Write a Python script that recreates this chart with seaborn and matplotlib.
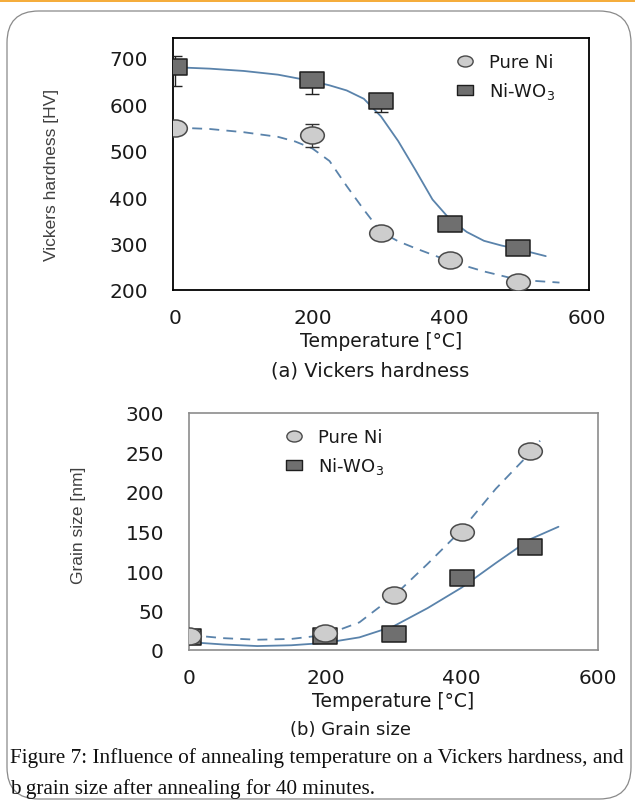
import numpy as np
import pandas as pd
import matplotlib
matplotlib.use("Agg")
import matplotlib.pyplot as plt
import seaborn as sns
from matplotlib.path import Path
from matplotlib.markers import MarkerStyle
from matplotlib.lines import Line2D
from matplotlib.patches import FancyBboxPatch, Rectangle

# ---------------- data ----------------
temps = [0, 200, 300, 400, 500]
series = ["Pure Ni", "Ni-WO$_3$"]

hv_pure = [550, 533, 323, 265, 218]
hv_wo3 = [680, 652, 608, 343, 290]
hv_pure_err_lo = [0, 24, 0, 0, 0]
hv_pure_err_hi = [0, 25, 0, 0, 0]
hv_wo3_err_lo = [40, 30, 25, 0, 0]
hv_wo3_err_hi = [25, 0, 0, 0, 0]

gs_pure = [18, 21, 70, 150, 252]
gs_wo3 = [16, 18, 20, 91, 130]

# fitted curves
hv_fit_pure_x = [0, 50, 100, 150, 175, 200, 225, 250, 275, 300, 325, 350, 400, 450, 500, 560]
hv_fit_pure_y = [550, 547, 540, 530, 520, 505, 478, 424, 373, 325, 305, 290, 262, 240, 222, 216]
hv_fit_wo3_x = [0, 50, 100, 150, 200, 225, 250, 275, 300, 325, 350, 375, 400, 425, 450, 475, 500, 540]
hv_fit_wo3_y = [680, 677, 672, 664, 650, 641, 630, 612, 574, 521, 459, 395, 353, 325, 306, 296, 288, 273]

gs_fit_pure_x = [0, 50, 100, 150, 200, 250, 300, 350, 400, 450, 500, 515]
gs_fit_pure_y = [19, 15, 13, 14, 19, 35, 68, 109, 152, 204, 249, 265]
gs_fit_wo3_x = [0, 50, 100, 150, 200, 250, 300, 350, 400, 450, 500, 542]
gs_fit_wo3_y = [10, 7, 5, 6, 9, 16, 30, 53, 79, 110, 140, 156]

hv_yticks = [200, 300, 400, 500, 600, 700]
gs_yticks = [0, 50, 100, 150, 200, 250, 300]
xticks = [0, 200, 400, 600]

# ---------------- style ----------------
sns.set_theme(style="white")
plt.rcParams["font.family"] = ["DejaVu Sans"]

line_col = "#5a83ab"
sq_face, sq_edge = "#6f6f6f", "#1e1e1e"
ci_face, ci_edge = "#cdcdcd", "#4a4a4a"
txt_col = "#1a1a1a"

W, H = 635, 803

ell = Path.unit_circle().transformed(matplotlib.transforms.Affine2D().scale(1.0, 0.72))
rect = Path([(-1, -0.7), (1, -0.7), (1, 0.7), (-1, 0.7), (-1, -0.7)],
            [Path.MOVETO, Path.LINETO, Path.LINETO, Path.LINETO, Path.CLOSEPOLY])
m_circle = MarkerStyle(ell)
m_square = MarkerStyle(rect)

fig = plt.figure(figsize=(W / 100, H / 100), dpi=100)

# decorations: orange top bar and rounded frame
fig.patches.append(Rectangle((0, 1 - 3 / H), 1, 3 / H, transform=fig.transFigure,
                             facecolor="#f5ad3c", edgecolor="none", zorder=0))
fig.patches.append(FancyBboxPatch((7 / W, 3 / H), 624 / W, 788 / H,
                                  boxstyle="round,pad=0,rounding_size=0.05",
                                  transform=fig.transFigure, facecolor="none",
                                  edgecolor="#8a8a8a", linewidth=0.9, zorder=0,
                                  mutation_aspect=W / H))

ax1 = fig.add_axes([173 / W, 1 - 291 / H, (589 - 173) / W, (291 - 39) / H])
ax2 = fig.add_axes([189 / W, 1 - 651 / H, (598 - 189) / W, (651 - 414) / H])


def draw_panel(ax, fx_p, fy_p, fx_w, fy_w, y_p, y_w, spine_col):
    dfp = pd.DataFrame({"x": fx_p, "y": fy_p})
    dfw = pd.DataFrame({"x": fx_w, "y": fy_w})
    sns.lineplot(data=dfw, x="x", y="y", ax=ax, color=line_col, lw=1.3, zorder=2)
    sns.lineplot(data=dfp, x="x", y="y", ax=ax, color=line_col, lw=1.3, zorder=2,
                 dashes=False, linestyle=(0, (5.5, 4)))
    dp = pd.DataFrame({"x": temps, "y": y_p})
    dw = pd.DataFrame({"x": temps, "y": y_w})
    sns.scatterplot(data=dw, x="x", y="y", ax=ax, marker=m_square, s=290,
                    color=sq_face, edgecolor=sq_edge, linewidth=1.1, zorder=4)
    sns.scatterplot(data=dp, x="x", y="y", ax=ax, marker=m_circle, s=290,
                    color=ci_face, edgecolor=ci_edge, linewidth=1.1, zorder=4)
    for s in ax.spines.values():
        s.set_color(spine_col)
        s.set_linewidth(1.3 if spine_col == "black" else 1.2)
    ax.tick_params(axis="both", which="major", direction="out", length=7, width=1.0,
                   color=spine_col, labelsize=14.5, labelcolor=txt_col)
    ax.tick_params(axis="y", pad=11)
    ax.tick_params(axis="x", pad=6)
    ax.set_xticks(xticks)
    ax.set_xticklabels([str(t) for t in xticks])
    ax.set_xlabel("Temperature [°C]", fontsize=13.5, color=txt_col, labelpad=3)


# ---- panel (a)
ax1.errorbar(temps, hv_wo3, yerr=[hv_wo3_err_lo, hv_wo3_err_hi], fmt="none",
             ecolor="#222222", elinewidth=1.0, capsize=5, capthick=1.0, zorder=3)
ax1.errorbar(temps, hv_pure, yerr=[hv_pure_err_lo, hv_pure_err_hi], fmt="none",
             ecolor="#333333", elinewidth=1.0, capsize=5, capthick=1.0, zorder=3)
draw_panel(ax1, hv_fit_pure_x, hv_fit_pure_y, hv_fit_wo3_x, hv_fit_wo3_y,
           hv_pure, hv_wo3, "black")
ax1.set_xlim(-3, 603)
ax1.set_ylim(200, 743)
ax1.set_yticks(hv_yticks)
ax1.set_yticklabels([str(t) for t in hv_yticks])
ax1.set_ylabel("Vickers hardness [HV]", fontsize=12.5, color="#404040",
               family="Liberation Sans")
ax1.yaxis.set_label_coords(-0.275, 0.46)

# ---- panel (b)
draw_panel(ax2, gs_fit_pure_x, gs_fit_pure_y, gs_fit_wo3_x, gs_fit_wo3_y,
           gs_pure, gs_wo3, "#8c8c8c")
ax2.set_xlim(0, 600)
ax2.set_ylim(0, 300)
ax2.set_yticks(gs_yticks)
ax2.set_yticklabels([str(t) for t in gs_yticks])
ax2.set_ylabel("Grain size [nm]", fontsize=12.5, color="#404040",
               family="Liberation Sans")
ax2.yaxis.set_label_coords(-0.253, 0.53)

# legends
def handles():
    return [Line2D([], [], ls="none", marker=m_circle, ms=11, mfc=ci_face, mec=ci_edge, mew=1.0),
            Line2D([], [], ls="none", marker=m_square, ms=11, mfc=sq_face, mec=sq_edge, mew=1.0)]

leg_kw = dict(loc="upper left", frameon=False, fontsize=13, handlelength=1.0,
              handletextpad=0.8, labelspacing=0.5, labelcolor=txt_col,
              bbox_transform=fig.transFigure)
ax1.legend(handles(), series, bbox_to_anchor=(440 / W, 1 - 38 / H), **leg_kw)
ax2.legend(handles(), series, bbox_to_anchor=(269 / W, 1 - 413 / H), **leg_kw)

# panel captions
fig.text(370 / W, 1 - 371 / H, "(a) Vickers hardness", ha="center", va="center",
         fontsize=14, color=txt_col)
fig.text(350 / W, 1 - 730 / H, "(b) Grain size", ha="center", va="center",
         fontsize=13, color=txt_col)

# figure caption
fig.text(10 / W, 1 - 758 / H,
         "Figure 7: Influence of annealing temperature on a Vickers hardness, and",
         ha="left", va="center", fontsize=15.3, family="Liberation Serif", color="#111111")
fig.text(10 / W, 1 - 789 / H, "b grain size after annealing for 40 minutes.",
         ha="left", va="center", fontsize=15.3, family="Liberation Serif", color="#111111")

fig.savefig("out.png", dpi=100)
